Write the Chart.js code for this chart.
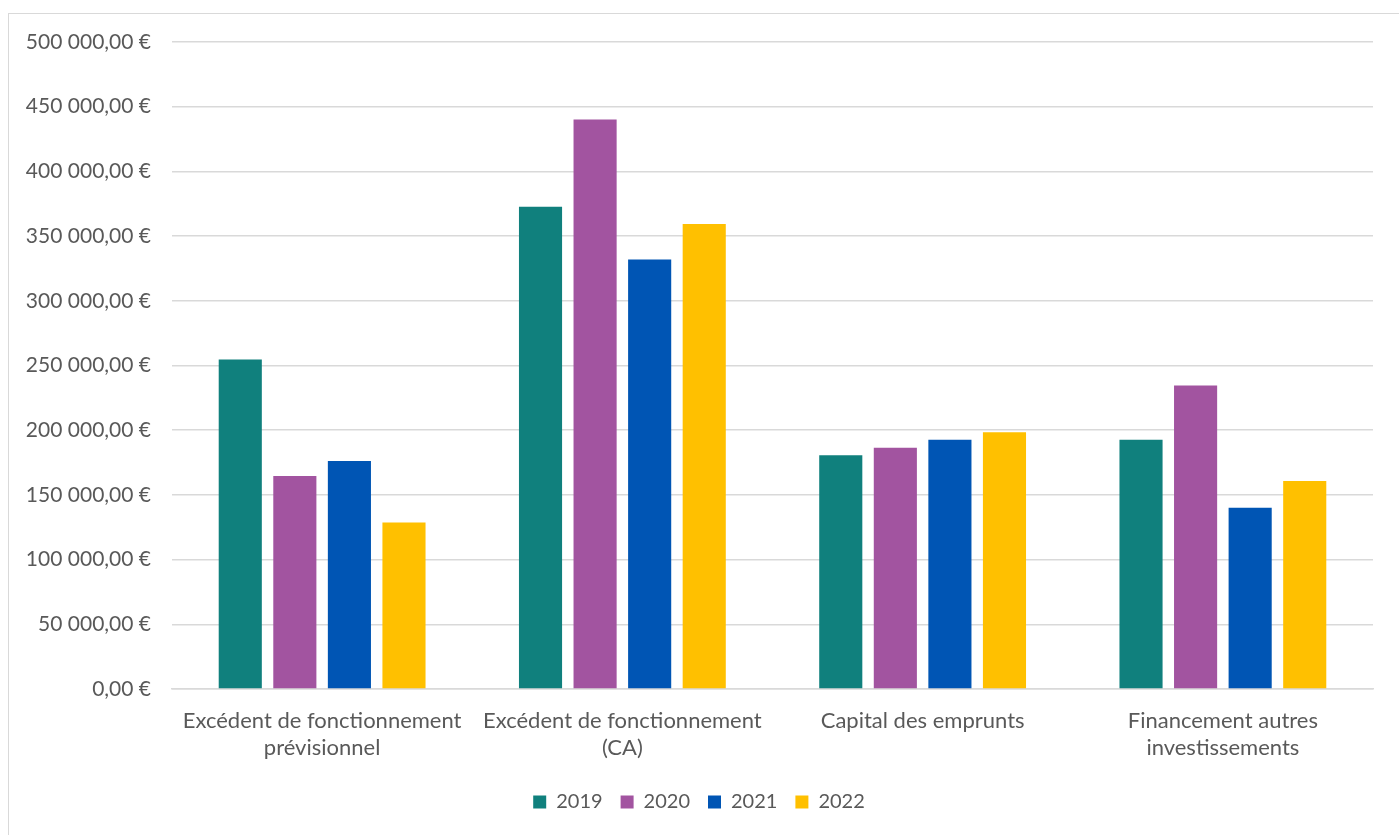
<!DOCTYPE html>
<html>
<head>
<meta charset="utf-8">
<script src="https://cdn.jsdelivr.net/npm/chart.js@4"></script>
<style>
  html, body { margin: 0; padding: 0; background: #fff; overflow: hidden; }
  #frame { position: absolute; left: 8px; top: 13px; width: 1400px; height: 840px; border: 1px solid #d9d9d9; box-sizing: border-box; }
  #wrap { position: absolute; left: 0; top: 0; width: 1399px; height: 835px; }
</style>
</head>
<body>
<div id="frame"></div>
<div id="wrap"><canvas id="myBarChart"></canvas></div>
<script>
var categories = [
  ["Excédent de fonctionnement", "prévisionnel"],
  ["Excédent de fonctionnement", "(CA)"],
  "Capital des emprunts",
  ["Financement autres", "investissements"]
];
var years = ["2019", "2020", "2021", "2022"];
var values2019 = [254600, 372600, 180700, 192600];
var values2020 = [164700, 440200, 186400, 234500];
var values2021 = [176200, 332000, 192600, 140000];
var values2022 = [128600, 359300, 198500, 160800];
var colors = ["#10807D", "#A254A0", "#0055B4", "#FFC000"];

Chart.defaults.font.family = "Lato, 'Open Sans', sans-serif";
Chart.defaults.color = "#595959";

var series = [values2019, values2020, values2021, values2022];

function euro(v) {
  var s = Math.round(v).toString().replace(/\B(?=(\d{3})+(?!\d))/g, " ");
  return s + ",00 €";
}

var ctx = document.getElementById("myBarChart");
var myChart = new Chart(ctx, {
  type: 'bar',
  data: {
    labels: categories,
    datasets: years.map(function (y, i) {
      return {
        label: y,
        data: series[i],
        backgroundColor: colors[i],
        borderWidth: 0,
        categoryPercentage: 0.727,
        barPercentage: 0.79
      };
    })
  },
  options: {
    responsive: true,
    maintainAspectRatio: false,
    animation: false,
    plugins: {
      legend: {
        display: true,
        position: 'bottom',
        labels: {
          boxWidth: 13,
          boxHeight: 13,
          padding: 18,
          color: "#595959",
          font: { size: 20 }
        }
      },
      tooltip: { enabled: false }
    },
    scales: {
      x: {
        grid: { display: false },
        border: { display: true, color: "#d9d9d9", width: 1.5 },
        ticks: {
          color: "#595959",
          padding: 10,
          maxRotation: 0,
          autoSkip: false,
          font: { size: 22, lineHeight: 1.23 }
        },
        afterFit: function (scale) { scale.height = 85; }
      },
      y: {
        min: 0,
        max: 500000,
        border: { display: false },
        grid: { color: "#d9d9d9", lineWidth: 1.5, drawTicks: false },
        ticks: {
          stepSize: 50000,
          color: "#595959",
          padding: 21,
          font: { size: 21 },
          callback: function (v) { return euro(v); }
        },
        afterFit: function (scale) { scale.width = 147; }
      }
    },
    layout: {
      padding: { top: 42, left: 25, right: 26, bottom: 13 }
    }
  }
});
</script>
</body>
</html>
